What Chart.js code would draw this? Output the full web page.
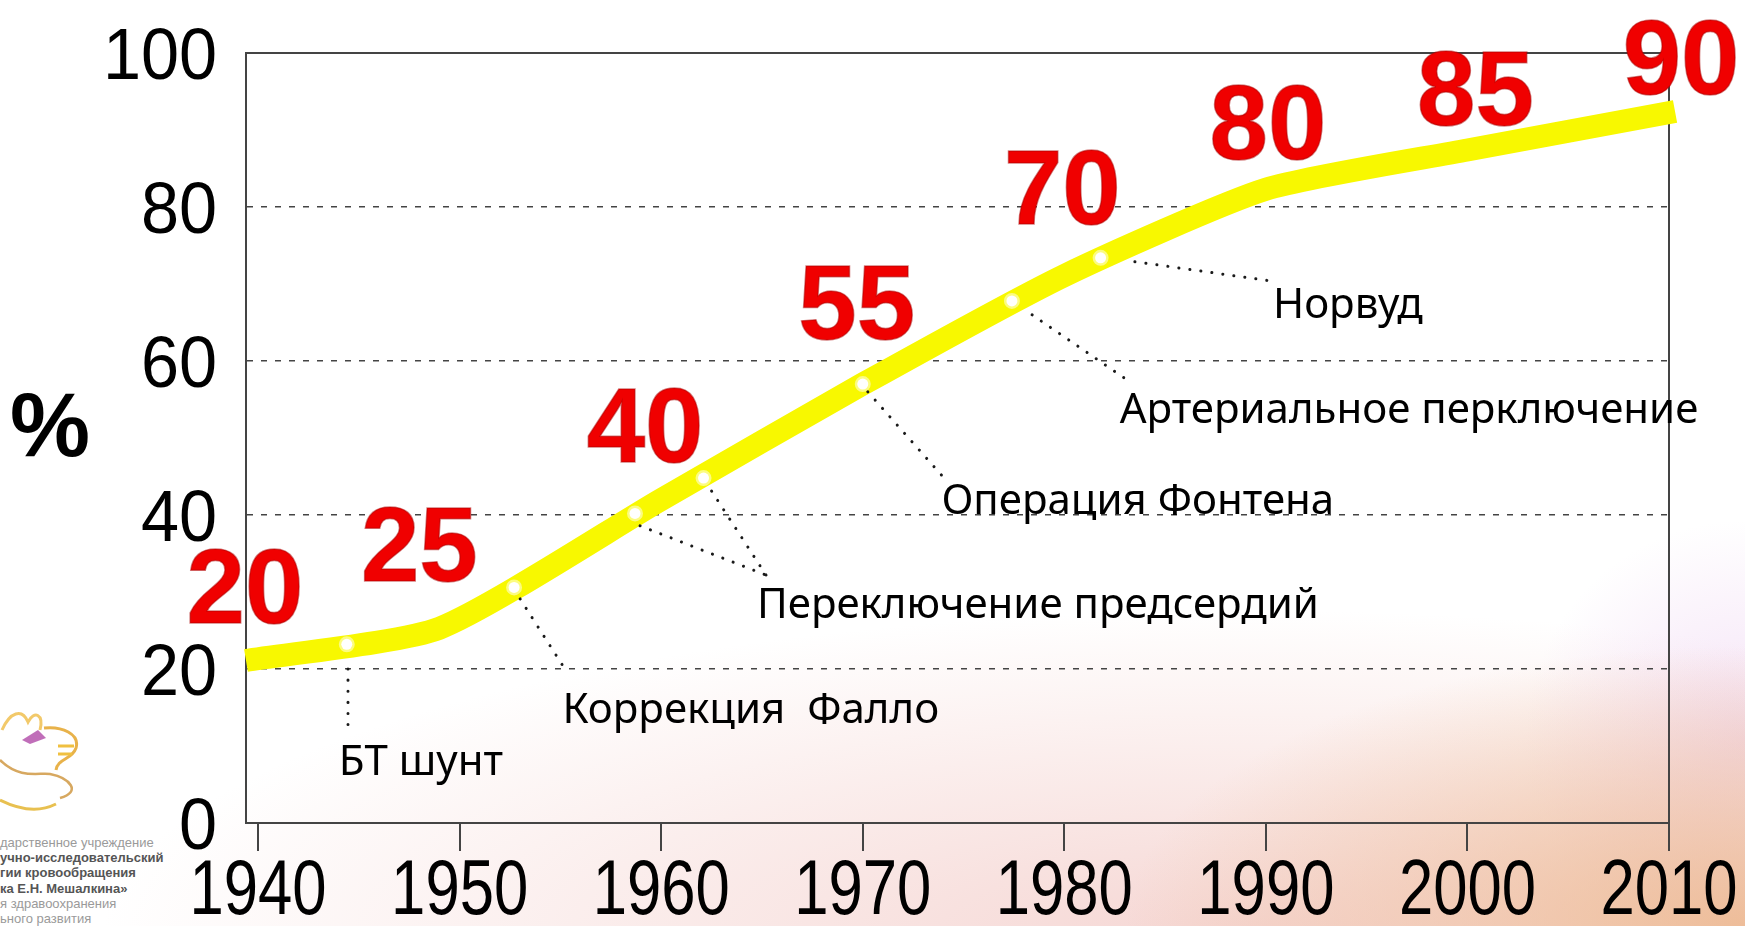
<!DOCTYPE html>
<html lang="ru">
<head>
<meta charset="utf-8">
<script src="https://cdn.jsdelivr.net/npm/chart.js@4.4.1/dist/chart.umd.min.js"></script>
<style>
  html, body { margin: 0; padding: 0; }
  body {
    width: 1745px; height: 926px; overflow: hidden; position: relative;
    background:
      radial-gradient(ellipse 620px 280px at 1745px 926px, rgba(236,182,140,0.85), rgba(236,182,140,0) 100%),
      radial-gradient(ellipse 1150px 330px at 1250px 940px, rgba(242,200,196,0.75), rgba(242,200,196,0) 100%),
      radial-gradient(ellipse 220px 220px at 1745px 740px, rgba(236,205,240,0.6), rgba(236,205,240,0) 100%),
      #fff;
  }
  #contenedor { position: absolute; left: 0; top: 0; width: 1745px; height: 926px; }
  .logo { position: absolute; left: 0; top: 700px; }
  .logo-texto { position: absolute; left: 0; top: 835px; font: 13px "Liberation Sans", sans-serif; line-height: 15.2px; color: #9a9a9a; white-space: nowrap; }
  .logo-texto b { color: #555; }
</style>
</head>
<body>
<svg class="logo" width="95" height="125" viewBox="0 0 95 125">
  <path d="M2 30 C10 12 22 8 28 22 C34 10 44 14 40 30" fill="none" stroke="#f2c96a" stroke-width="3"/>
  <path d="M22 40 L38 30 L46 38 L30 44 Z" fill="#b04aa8" opacity="0.8"/>
  <path d="M44 28 C62 26 80 34 76 48 C72 60 58 58 56 70" fill="none" stroke="#e8b24a" stroke-width="3"/>
  <path d="M58 46 L74 46 M58 54 L72 54" stroke="#f0c040" stroke-width="3"/>
  <path d="M0 60 C20 80 40 72 50 74 C70 78 82 92 60 98" fill="none" stroke="#d7a860" stroke-width="2.5"/>
  <path d="M0 100 C20 110 40 112 56 104" fill="none" stroke="#e8c050" stroke-width="3"/>
</svg>
<div class="logo-texto">
  дарственное учреждение<br>
  <b>учно-исследовательский</b><br>
  <b>гии кровообращения</b><br>
  <b>ка Е.Н. Мешалкина»</b><br>
  я здравоохранения<br>
  ьного развития
</div>
<div id="contenedor"><canvas id="grafico"></canvas></div>
<script>
const decadas = [1940, 1950, 1960, 1970, 1980, 1990, 2000, 2010];
const supervivencia = [20, 25, 40, 55, 70, 80, 85, 90];
const ejeY = [0, 20, 40, 60, 80, 100];

// yellow curve
const curvaAnios = [1939.4, 1949, 1960, 1970, 1980, 1990, 2000, 2010.3];
const curvaValores = [21.1, 25.3, 42.0, 57.0, 71.1, 82.3, 87.4, 92.4];

// operations and the glowing points on the curve
const operaciones = ['БТ шунт', 'Коррекция  Фалло', 'Переключение предсердий', 'Операция Фонтена', 'Артериальное перключение', 'Норвуд'];
const hitosAnios = [1944.4, 1952.7, 1958.7, 1962.1, 1970.0, 1977.4, 1981.8];
const hitosValores = [23.2, 30.6, 40.2, 44.8, 57.0, 67.8, 73.4];
const hitosOperacion = [0, 1, 2, 2, 3, 4, 5];

// where captions sit (year, % at baseline) and where the dotted leaders go
const textoAncla = [[1944.0, 6.2], [1955.1, 13.0], [1964.75, 26.6], [1973.9, 40.1], [1982.75, 52.0], [1990.35, 65.6]];
const guiaInicio = [[1944.46, 20.0], [1953.0, 29.1], [1958.95, 38.6], [1962.5, 43.1], [1970.25, 56.0], [1978.4, 66.0], [1983.5, 72.9]];
const guiaFin = [[1944.46, 12.7], [1955.1, 20.5], [1965.2, 32.2], [1974.0, 44.9], [1983.25, 57.3], [1990.5, 70.3]];
const rojoAncla = [[1939.35, 30.8], [1948.0, 36.2], [1959.2, 51.7], [1969.7, 67.6], [1979.9, 82.6], [1990.1, 91.0], [2000.4, 95.5], [2010.6, 99.5]];

const fuenteEje = '"Liberation Sans", Arial, sans-serif';

// text squeezed sideways, like the narrow digits of the original
function textoEstrecho(ctx, texto, px, py, ancho) {
    ctx.save();
    ctx.translate(px, py);
    ctx.scale(ancho, 1);
    ctx.fillText(texto, 0, 0);
    ctx.restore();
}

const anotaciones = {
    id: 'anotaciones',
    afterDatasetsDraw(chart) {
        const { ctx, chartArea, scales: { x, y } } = chart;
        ctx.save();

        // top of the frame
        ctx.strokeStyle = '#444';
        ctx.lineWidth = 2;
        ctx.beginPath();
        ctx.moveTo(chartArea.left, chartArea.top);
        ctx.lineTo(chartArea.right, chartArea.top);
        ctx.stroke();

        // tick labels
        ctx.fillStyle = '#000';
        ctx.textBaseline = 'alphabetic';
        ctx.font = '78px ' + fuenteEje;
        ctx.textAlign = 'center';
        x.ticks.forEach(t => {
            textoEstrecho(ctx, String(t.value), x.getPixelForValue(t.value), chartArea.bottom + 91, 0.79);
        });
        ctx.font = '72px ' + fuenteEje;
        ctx.textAlign = 'right';
        y.ticks.forEach(t => {
            textoEstrecho(ctx, String(t.value), chartArea.left - 29, y.getPixelForValue(t.value) + 26, 0.95);
        });

        // dotted leaders
        ctx.strokeStyle = '#1a1a1a';
        ctx.lineWidth = 3;
        ctx.lineCap = 'round';
        ctx.setLineDash([0.1, 11]);
        hitosAnios.forEach((anio, i) => {
            const ini = guiaInicio[i];
            const fin = guiaFin[hitosOperacion[i]];
            ctx.beginPath();
            ctx.moveTo(x.getPixelForValue(ini[0]), y.getPixelForValue(ini[1]));
            ctx.lineTo(x.getPixelForValue(fin[0]), y.getPixelForValue(fin[1]));
            ctx.stroke();
        });
        ctx.setLineDash([]);

        // operation captions
        ctx.fillStyle = '#000';
        ctx.font = '42px "Noto Sans", sans-serif';
        ctx.textAlign = 'left';
        operaciones.forEach((nombre, i) => {
            ctx.fillText(nombre, x.getPixelForValue(textoAncla[i][0]), y.getPixelForValue(textoAncla[i][1]));
        });

        // red survival numbers
        ctx.font = 'bold 105px ' + fuenteEje;
        ctx.textAlign = 'center';
        ctx.fillStyle = '#f00000';
        ctx.strokeStyle = 'rgba(170,0,0,0.5)';
        ctx.lineWidth = 1.5;
        supervivencia.forEach((v, i) => {
            const px = x.getPixelForValue(rojoAncla[i][0]);
            const py = y.getPixelForValue(rojoAncla[i][1]) + 37;
            ctx.fillText(String(v), px, py);
            ctx.strokeText(String(v), px, py);
        });

        // axis unit
        ctx.fillStyle = '#000';
        ctx.font = 'bold 90px ' + fuenteEje;
        ctx.fillText('%', 50, y.getPixelForValue(51.8) + 32);

        ctx.restore();
    }
};

const ctx = document.getElementById('grafico').getContext('2d');

new Chart(ctx, {
    type: 'line',
    data: {
        datasets: [
            {
                data: hitosAnios.map((a, i) => ({ x: a, y: hitosValores[i] })),
                showLine: false,
                pointRadius: 5.5,
                pointBackgroundColor: '#ffffff',
                pointBorderColor: 'rgba(255,255,255,0.5)',
                pointBorderWidth: 5,
                order: 0
            },
            {
                data: curvaAnios.map((a, i) => ({ x: a, y: curvaValores[i] })),
                borderColor: '#f8f800',
                borderWidth: 23,
                borderCapStyle: 'butt',
                borderJoinStyle: 'round',
                tension: 0.2,
                pointRadius: 0,
                fill: false,
                clip: false,
                order: 1
            }
        ]
    },
    options: {
        responsive: true,
        maintainAspectRatio: false,
        animation: false,
        events: [],
        layout: { padding: { top: 53, right: 76, left: 0, bottom: 0 } },
        plugins: {
            legend: { display: false },
            tooltip: { enabled: false }
        },
        scales: {
            x: {
                type: 'linear',
                min: 1939.4,
                max: 2010,
                afterBuildTicks: s => { s.ticks = decadas.map(v => ({ value: v })); },
                afterFit: s => { s.height = 103; },
                ticks: { display: false },
                grid: {
                    drawOnChartArea: true,
                    color: c => (c.tick && c.tick.value === 2010) ? '#444' : 'rgba(0,0,0,0)',
                    lineWidth: 2,
                    tickColor: '#444',
                    tickLength: 28,
                    tickWidth: 2
                },
                border: { color: '#444', width: 2 }
            },
            y: {
                min: 0,
                max: 100,
                afterBuildTicks: s => { s.ticks = ejeY.map(v => ({ value: v })); },
                afterFit: s => { s.width = 246; },
                ticks: { display: false },
                grid: {
                    drawTicks: false,
                    color: c => (c.tick && (c.tick.value === 0 || c.tick.value === 100)) ? 'rgba(0,0,0,0)' : '#444',
                    lineWidth: 1.5
                },
                border: { color: '#444', width: 2, dash: [6, 8] }
            }
        }
    },
    plugins: [anotaciones]
});
</script>
</body>
</html>
